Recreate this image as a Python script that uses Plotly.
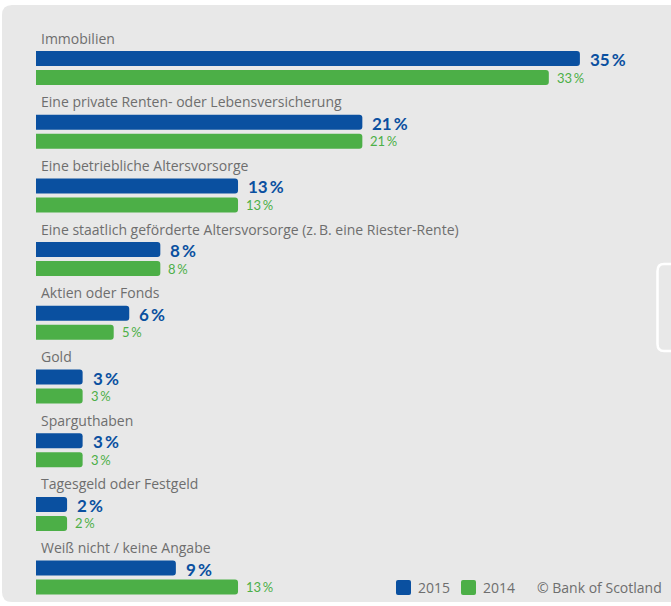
import plotly.graph_objects as go

# Survey answers (share of respondents, %)
categories = [
    "Immobilien",
    "Eine private Renten- oder Lebensversicherung",
    "Eine betriebliche Altersvorsorge",
    "Eine staatlich geförderte Altersvorsorge (z.\u2009B. eine Riester-Rente)",
    "Aktien oder Fonds",
    "Gold",
    "Sparguthaben",
    "Tagesgeld oder Festgeld",
    "Weiß nicht / keine Angabe",
]
values_2015 = [35, 21, 13, 8, 6, 3, 3, 2, 9]
values_2014 = [33, 21, 13, 8, 5, 3, 3, 2, 13]
series_names = ["2015", "2014"]
source_text = "© Bank of Scotland"

BLUE = "#0a50a0"
GREEN = "#4caf47"
PANEL = "#e8e8e8"
TEXT_GRAY = "#6e6e6e"
LABEL_FONT = "Open Sans"
VALUE_FONT = "Lato"

W, H = 671, 606
X0_PX = 36.0          # pixel where the value axis starts
PX_PER_UNIT = 15.54   # pixels per percentage point
PITCH = 63.7          # vertical distance between groups
LABEL_Y0, BLUE_Y0, GREEN_Y0 = 38.0, 58.5, 77.5
BAR_H = 15

n = len(categories)
y_label = [LABEL_Y0 + i * PITCH for i in range(n)]
y_blue = [BLUE_Y0 + i * PITCH for i in range(n)]
y_green = [GREEN_Y0 + i * PITCH for i in range(n)]

fig = go.Figure()
fig.add_trace(go.Bar(
    x=values_2015, y=y_blue, orientation="h", width=BAR_H,
    marker=dict(color=BLUE, line=dict(width=0)), name=series_names[0],
    showlegend=False, hoverinfo="x",
))
fig.add_trace(go.Bar(
    x=values_2014, y=y_green, orientation="h", width=BAR_H,
    marker=dict(color=GREEN, line=dict(width=0)), name=series_names[1],
    showlegend=False, hoverinfo="x",
))

annotations = []
for i, cat in enumerate(categories):
    annotations.append(dict(
        x=0, y=y_label[i], xref="x", yref="y", text=cat, showarrow=False,
        xanchor="left", yanchor="middle", xshift=3,
        font=dict(family=LABEL_FONT, size=14, color=TEXT_GRAY),
    ))
    annotations.append(dict(
        x=values_2015[i], y=y_blue[i], xref="x", yref="y",
        text=f"<b>{values_2015[i]}\u2009%</b>", showarrow=False,
        xanchor="left", yanchor="middle", xshift=8, yshift=-1,
        font=dict(family=VALUE_FONT, size=17, color=BLUE),
    ))
    annotations.append(dict(
        x=values_2014[i], y=y_green[i], xref="x", yref="y",
        text=f"{values_2014[i]}\u2009%", showarrow=False,
        xanchor="left", yanchor="middle", xshift=6,
        font=dict(family=VALUE_FONT, size=13, color=GREEN),
    ))

# Legend and source line
legend_y = 587
for px, name in [(416, series_names[0]), (481, series_names[1])]:
    annotations.append(dict(
        x=px / W, y=legend_y, xref="paper", yref="y", text=name, showarrow=False,
        xanchor="left", yanchor="middle",
        font=dict(family=LABEL_FONT, size=14, color=TEXT_GRAY),
    ))
annotations.append(dict(
    x=664 / W, y=legend_y, xref="paper", yref="y", text=source_text, showarrow=False,
    xanchor="right", yanchor="middle",
    font=dict(family=LABEL_FONT, size=14, color=TEXT_GRAY),
))

# Grey card (x in paper fraction, y in pixels via the y axis)
panel_path = (
    f"M{2/W},{40} L{2/W},{602-10} Q{2/W},{602} {12/W},{602} L{1.02},{602} "
    f"L{1.02},{5} L{12/W},{5} Q{2/W},{5} {2/W},{15} Z"
)
shapes = [
    dict(type="path", xref="paper", yref="y", layer="below",
         path=panel_path, fillcolor=PANEL, line=dict(width=0)),
    # scroll handle outline on the right edge
    dict(type="path", xref="paper", yref="y", layer="below",
         path=(f"M{664/W},{264} L{1.02},{264} L{1.02},{351} L{664/W},{351} "
               f"Q{657.5/W},{351} {657.5/W},{344} L{657.5/W},{271} "
               f"Q{657.5/W},{264} {664/W},{264} Z"),
         fillcolor="rgba(0,0,0,0)", line=dict(color="white", width=2.5)),
]
# legend swatches
for px, col in [(396, BLUE), (461, GREEN)]:
    shapes.append(dict(
        type="path", xref="paper", yref="y", layer="above",
        path=(f"M{(px+2)/W},{580} L{(px+13)/W},{580} Q{(px+15)/W},{580} {(px+15)/W},{582} "
              f"L{(px+15)/W},{593} Q{(px+15)/W},{595} {(px+13)/W},{595} L{(px+2)/W},{595} "
              f"Q{px/W},{595} {px/W},{593} L{px/W},{582} Q{px/W},{580} {(px+2)/W},{580} Z"),
        fillcolor=col, line=dict(width=0),
    ))

fig.update_layout(
    width=W, height=H,
    margin=dict(l=0, r=0, t=0, b=0),
    paper_bgcolor="white",
    plot_bgcolor="rgba(0,0,0,0)",
    barmode="overlay",
    barcornerradius=3,
    xaxis=dict(range=[-X0_PX / PX_PER_UNIT, (W - X0_PX) / PX_PER_UNIT],
               visible=False, fixedrange=True),
    yaxis=dict(range=[H, 0], visible=False, fixedrange=True),
    annotations=annotations,
    shapes=shapes,
    showlegend=False,
)

fig.write_html("out.html")
